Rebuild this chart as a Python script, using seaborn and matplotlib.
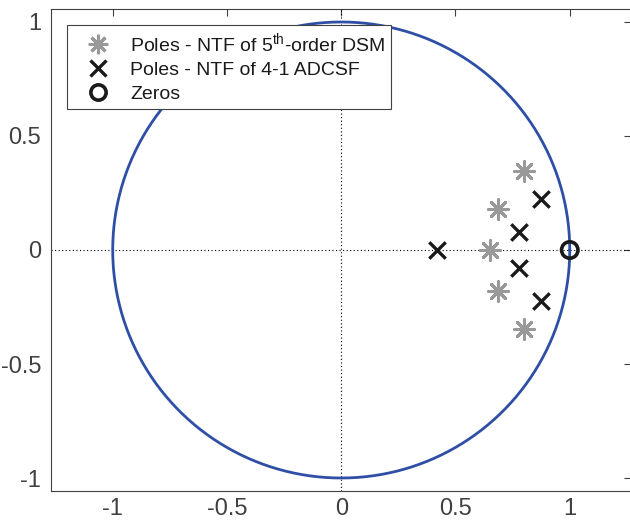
import numpy as np
import pandas as pd
import matplotlib
matplotlib.use("Agg")
import matplotlib.pyplot as plt
import seaborn as sns
from matplotlib.lines import Line2D

# Pole / zero locations in the z-plane
dsm5_poles_re = [0.800, 0.686, 0.650, 0.686, 0.800]
dsm5_poles_im = [0.346, 0.178, 0.000, -0.178, -0.346]

adcsf_poles_re = [0.417, 0.779, 0.779, 0.874, 0.874]
adcsf_poles_im = [0.000, 0.079, -0.079, 0.224, -0.224]

zeros_re = [1.0]
zeros_im = [0.0]

xticks = [-1, -0.5, 0, 0.5, 1]
yticks = [-1, -0.5, 0, 0.5, 1]

labels = [
    r"Poles - NTF of 5$^{\mathrm{th}}$-order DSM",
    "Poles - NTF of 4-1 ADCSF",
    "Zeros",
]

sns.set_theme(style="white")
plt.rcParams["font.family"] = ["Liberation Sans", "DejaVu Sans"]
plt.rcParams["mathtext.fontset"] = "custom"
plt.rcParams["mathtext.rm"] = "Liberation Sans"
plt.rcParams["mathtext.it"] = "Liberation Sans:italic"

axis_col = "#404040"
circle_col = "#2E4FA5"
gray = "#999999"
dark = "#1a1a1a"

fig = plt.figure(figsize=(6.3, 5.25), dpi=100)
ax = fig.add_axes([51 / 630, 34 / 525, 580 / 630, 482 / 525])

# unit circle
theta = np.linspace(0, 2 * np.pi, 721)
circle = pd.DataFrame({"re": np.cos(theta), "im": np.sin(theta)})
sns.lineplot(data=circle, x="re", y="im", sort=False, estimator=None,
             color=circle_col, linewidth=2.0, ax=ax, zorder=2)

# real / imaginary axes
ax.axhline(0, color="black", linestyle=(0, (1, 2.2)), linewidth=0.8, zorder=1)
ax.axvline(0, color="black", linestyle=(0, (1, 2.2)), linewidth=0.8, zorder=1)

df_dsm = pd.DataFrame({"re": dsm5_poles_re, "im": dsm5_poles_im})
df_adc = pd.DataFrame({"re": adcsf_poles_re, "im": adcsf_poles_im})
df_zer = pd.DataFrame({"re": zeros_re, "im": zeros_im})

star = (8, 2, 0)
sns.scatterplot(data=df_dsm, x="re", y="im", marker=star, s=200, color=gray,
                linewidth=2.2, ax=ax, zorder=3)
sns.scatterplot(data=df_adc, x="re", y="im", marker="x", s=140, color=dark,
                linewidth=2.4, ax=ax, zorder=3)
sns.scatterplot(data=df_zer, x="re", y="im", marker="o", s=140, facecolor="none",
                edgecolor=dark, linewidth=2.6, ax=ax, zorder=4)

ax.set_xlim(-1.27, 1.268)
ax.set_ylim(-1.057, 1.057)
ax.set_xticks(xticks)
ax.set_yticks(yticks)
ax.set_xticklabels([f"{t:g}" for t in xticks])
ax.set_yticklabels([f"{t:g}" for t in yticks])
ax.set_xlabel("")
ax.set_ylabel("")

ax.tick_params(direction="in", length=5, width=0.8, colors=axis_col,
               labelsize=17, top=True, right=True, pad=7)
ax.tick_params(axis="x", pad=5)
for sp in ax.spines.values():
    sp.set_color(axis_col)
    sp.set_linewidth(0.8)
    sp.set_visible(True)

handles = [
    Line2D([], [], linestyle="none", marker=star, markersize=14, color=gray,
           markeredgewidth=2.2),
    Line2D([], [], linestyle="none", marker="x", markersize=11, color=dark,
           markeredgewidth=2.4),
    Line2D([], [], linestyle="none", marker="o", markersize=11, markerfacecolor="none",
           markeredgecolor=dark, markeredgewidth=2.6),
]
leg = ax.legend(handles, labels, loc="upper left",
                bbox_to_anchor=(16 / 580, 1 - 16 / 482), borderaxespad=0,
                frameon=True, fancybox=False, framealpha=1, edgecolor=axis_col,
                fontsize=14, handlelength=2.6, handletextpad=0.35,
                labelspacing=0.33, borderpad=0.3)
leg.get_frame().set_linewidth(0.8)
for t in leg.get_texts():
    t.set_color(dark)

fig.savefig("out.png", dpi=100)
